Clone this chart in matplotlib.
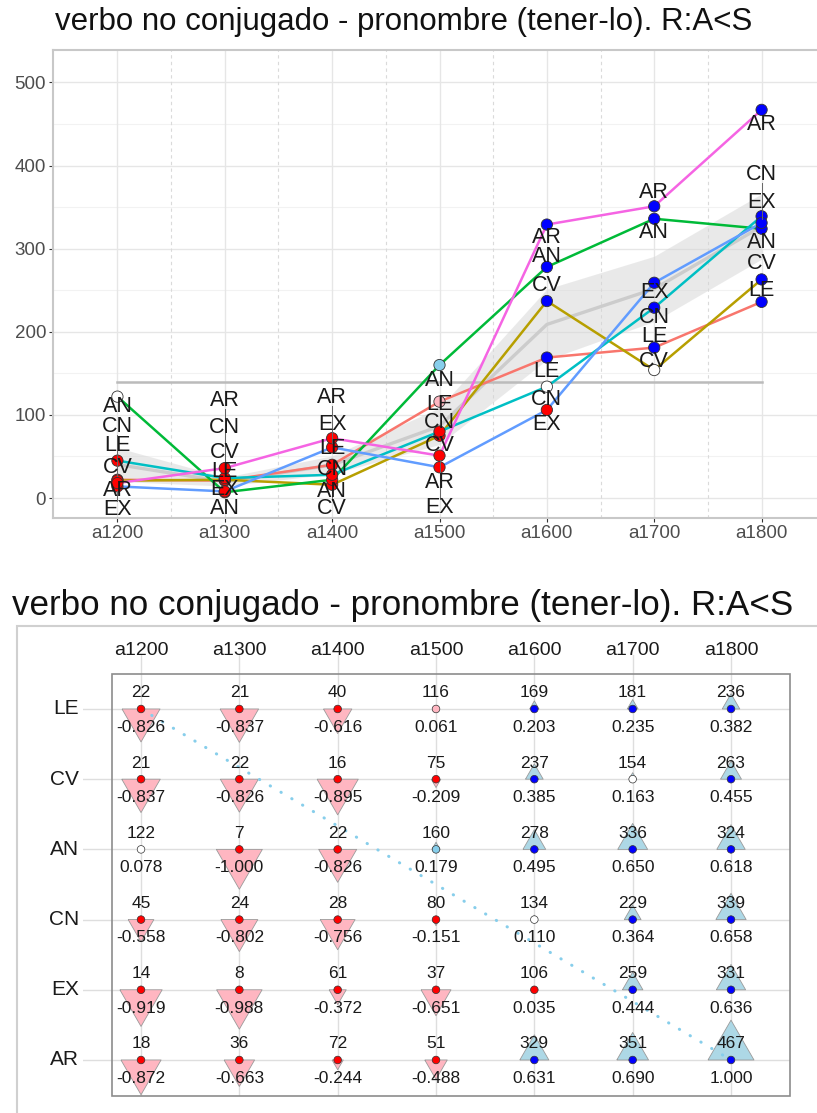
import numpy as np
import matplotlib.pyplot as plt
from matplotlib.path import Path
from matplotlib.patches import Rectangle

plt.rcParams['font.family'] = ['Liberation Sans', 'DejaVu Sans']

titulo = 'verbo no conjugado - pronombre (tener-lo). R:A<S'

periodos = ['a1200', 'a1300', 'a1400', 'a1500', 'a1600', 'a1700', 'a1800']
variantes = ['LE', 'CV', 'AN', 'CN', 'EX', 'AR']

# frecuencias por variante y periodo
frec = {
    'LE': [22, 21, 40, 116, 169, 181, 236],
    'CV': [21, 22, 16, 75, 237, 154, 263],
    'AN': [122, 7, 22, 160, 278, 336, 324],
    'CN': [45, 24, 28, 80, 134, 229, 339],
    'EX': [14, 8, 61, 37, 106, 259, 331],
    'AR': [18, 36, 72, 51, 329, 351, 467],
}

# coeficiente normalizado de cada celda
coef = {
    'LE': [-0.826, -0.837, -0.616, 0.061, 0.203, 0.235, 0.382],
    'CV': [-0.837, -0.826, -0.895, -0.209, 0.385, 0.163, 0.455],
    'AN': [0.078, -1.000, -0.826, 0.179, 0.495, 0.650, 0.618],
    'CN': [-0.558, -0.802, -0.756, -0.151, 0.110, 0.364, 0.658],
    'EX': [-0.919, -0.988, -0.372, -0.651, 0.035, 0.444, 0.636],
    'AR': [-0.872, -0.663, -0.244, -0.488, 0.631, 0.690, 1.000],
}

# significacion del residuo: '-' / '+' significativo, 'n-' / 'n+' debil, 'o' nada
signif = {
    'LE': ['-', '-', '-', 'n-', '+', '+', '+'],
    'CV': ['-', '-', '-', '-', '+', 'o', '+'],
    'AN': ['o', '-', '-', 'n+', '+', '+', '+'],
    'CN': ['-', '-', '-', '-', 'o', '+', '+'],
    'EX': ['-', '-', '-', '-', '-', '+', '+'],
    'AR': ['-', '-', '-', '-', '+', '+', '+'],
}

# desplazamiento vertical de las etiquetas (repel) respecto al punto
etiq_dy = {
    'LE': [41, 11, 20, -4, -17, 13, 14],
    'CV': [15.5, 32.5, -28, -12, 19, 10, 19],
    'AN': [-12, -19, -14.4, -18, 12, -17, -16],
    'CN': [41, 61, 6.5, 11, -16, -12, 50],
    'EX': [-28, 2, 28, -48, -18, -12, 24],
    'AR': [-9, 81, 49, -32, -15, 16, -18],
}

colores = {'LE': '#F8766D', 'CV': '#B79F00', 'AN': '#00BA38',
           'CN': '#00BFC4', 'EX': '#619CFF', 'AR': '#F564E3'}
col_sig = {'-': '#FF0000', '+': '#0000FF', 'o': 'white',
           'n-': '#FFB6C1', 'n+': '#87CEEB'}

W, H = 817, 1113
fig = plt.figure(figsize=(W / 100, H / 100), dpi=100)

# ---------------- grafico de lineas ----------------
ax = fig.add_axes([53 / W, 1 - 518 / H, 773 / W, 468 / H])
x = np.arange(len(periodos))
F = np.array([frec[v] for v in variantes], dtype=float)
media = F.mean(axis=0)
se = F.std(axis=0, ddof=1) / np.sqrt(F.shape[0])

for yv in range(0, 501, 100):
    ax.axhline(yv, color='#E6E6E6', lw=1, zorder=0)
for yv in range(50, 500, 100):
    ax.axhline(yv, color='#F2F2F2', lw=0.8, zorder=0)
for i in x:
    ax.axvline(i, color='#E6E6E6', lw=1, zorder=0)
for i in x[:-1] + 0.5:
    ax.axvline(i, color='#DADADA', lw=0.8, ls=(0, (3, 3)), zorder=0)

ax.fill_between(x, media - 1.2 * se, media + 1.2 * se, color='#D5D5D5', alpha=0.5, lw=0, zorder=1)
ax.plot(x, media, color='#CCCCCC', lw=2.4, zorder=1.5)
ax.plot([x[0], x[-1]], [F.mean(), F.mean()], color='#BBBBBB', lw=1.8, zorder=1.6)

for v in variantes:
    ax.plot(x, frec[v], color=colores[v], lw=1.8, zorder=3, solid_capstyle='round')
for v in variantes:
    cs = [col_sig[s] for s in signif[v]]
    ax.scatter(x, frec[v], s=66, c=cs, edgecolors='#333333', linewidths=0.6, zorder=4)

for v in variantes:
    for i in x:
        y0 = frec[v][i]
        dy = etiq_dy[v][i]
        ly = y0 + dy
        if abs(dy) > 22:
            sg = np.sign(dy)
            ax.plot([i, i], [y0 + sg * 5, ly - sg * 10], color='#666666', lw=0.7, zorder=5)
        ax.text(i, ly, v, ha='center', va='center', fontsize=15.5, color='#1A1A1A', zorder=6)

ax.set_xlim(-0.6, 6.6)
ax.set_ylim(-24, 539)
ax.set_xticks(x)
ax.set_xticklabels(periodos)
ax.set_yticks(range(0, 501, 100))
ax.tick_params(length=3, width=0.8, color='#333333', labelsize=13.5, labelcolor='#4D4D4D', pad=2)
for sp in ax.spines.values():
    sp.set_color('#C8C8C8')
    sp.set_linewidth(1.5)

fig.text(55 / W, 1 - 22 / H, titulo, fontsize=22.5, color='#111111', ha='left', va='center')

# ---------------- tabla de coeficientes ----------------
ax2 = fig.add_axes([83 / W, 1 - 1096 / H, 707 / W, 441 / H])
ax2.set_xlim(-0.59, 6.6)
ax2.set_ylim(5.513, -0.769)
for sp in ax2.spines.values():
    sp.set_visible(False)
ax2.set_xticks([])
ax2.set_yticks([])
for i in x:
    ax2.axvline(i, color='#DEDEDE', lw=1, zorder=0)
for j in range(len(variantes)):
    ax2.axhline(j, color='#DEDEDE', lw=1, zorder=0)
ax2.add_patch(Rectangle((-0.295, -0.5), 6.895, 6.013, fill=False, ec='#8C8C8C',
                        lw=1.2, clip_on=False, zorder=1))

tri_arriba = Path([(-0.5, 0), (0.5, 0), (0, 0.866), (-0.5, 0)])
tri_abajo = Path([(-0.5, 0), (0.5, 0), (0, -0.866), (-0.5, 0)])

for j, v in enumerate(variantes):
    c = np.array(coef[v])
    yy = np.full(len(x), j)
    pos = c > 0
    neg = c < 0
    ax2.scatter(x[pos], yy[pos], s=(57.4 * c[pos]) ** 2, marker=tri_arriba,
                c='#ADD8E6', edgecolors='#9A9A9A', linewidths=0.6, zorder=2)
    ax2.scatter(x[neg], yy[neg], s=(57.4 * c[neg]) ** 2, marker=tri_abajo,
                c='#FFB6C1', edgecolors='#9A9A9A', linewidths=0.6, zorder=2)

# diagonal de referencia
ax2.plot([x[0], x[-1]], [0, len(variantes) - 1], color='#87CEEB', lw=2.2,
         ls=(0, (0.1, 4)), dash_capstyle='round', zorder=3)

for j, v in enumerate(variantes):
    cs = [col_sig[s] for s in signif[v]]
    ax2.scatter(x, np.full(len(x), j), s=30, c=cs, edgecolors='#333333',
                linewidths=0.5, zorder=4)
    for i in x:
        ax2.text(i, j - 0.23, str(frec[v][i]), ha='center', va='center',
                 fontsize=12.5, color='#1A1A1A', zorder=5)
        ax2.text(i, j + 0.26, '%.3f' % coef[v][i], ha='center', va='center',
                 fontsize=12.5, color='#1A1A1A', zorder=5)
    ax2.text(-0.63, j, v, ha='right', va='center', fontsize=15, color='#1A1A1A')

for i, p in enumerate(periodos):
    ax2.text(i, -0.84, p, ha='center', va='center', fontsize=14, color='#1A1A1A', clip_on=False)

fig.add_artist(Rectangle((17 / W, -0.01), 1.0, 1 - 626 / H + 0.01, transform=fig.transFigure,
                         fill=False, ec='#D0D0D0', lw=1.5))
fig.text(12 / W, 1 - 605 / H, titulo, fontsize=25.2, color='#111111', ha='left', va='center')

fig.savefig('out.png', dpi=100)
